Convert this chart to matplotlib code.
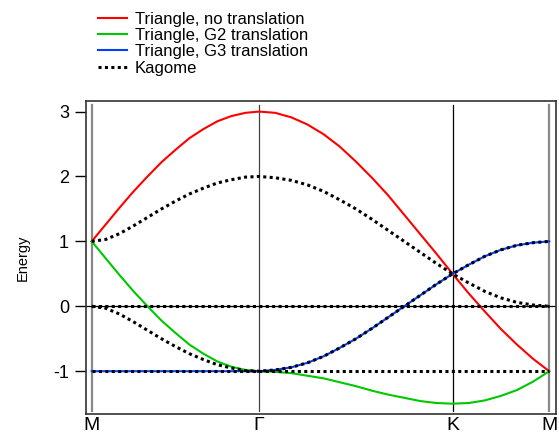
import numpy as np
import matplotlib
matplotlib.use("Agg")
import matplotlib.pyplot as plt

plt.rcParams['font.family'] = ['Liberation Sans', 'DejaVu Sans']

# path lengths of the segments M-G, G-K, K-M (reciprocal units)
seg_len = [1.814, 2.094, 1.047]
seg_n = [12, 12, 6]
tick_pos = np.concatenate([[0], np.cumsum(seg_len)])
tick_labels = ["M", "\u0393", "K", "M"]

# energies, M -> Gamma -> K -> M
red = [1.00, 1.26, 1.52, 1.77, 2.00, 2.22, 2.41, 2.59, 2.73, 2.85, 2.93, 2.98, 3.00,
       2.98, 2.91, 2.80, 2.65, 2.46, 2.23, 1.98, 1.71, 1.41, 1.11, 0.81, 0.50,
       0.20, -0.08, -0.35, -0.59, -0.81, -1.00]
green = [1.00, 0.74, 0.48, 0.23, 0.00, -0.22, -0.41, -0.59, -0.73, -0.85, -0.93, -0.98, -1.00,
         -1.01, -1.03, -1.07, -1.11, -1.17, -1.23, -1.30, -1.36, -1.41, -1.46, -1.49, -1.50,
         -1.49, -1.45, -1.38, -1.29, -1.16, -1.00]
blue = [-1.00, -1.00, -1.00, -1.00, -1.00, -1.00, -1.00, -1.00, -1.00, -1.00, -1.00, -1.00, -1.00,
        -0.98, -0.94, -0.87, -0.77, -0.64, -0.50, -0.34, -0.17, 0.00, 0.17, 0.34, 0.50,
        0.64, 0.77, 0.87, 0.94, 0.98, 1.00]
kag_up = [1.00, 1.03, 1.12, 1.24, 1.37, 1.50, 1.62, 1.73, 1.82, 1.90, 1.95, 1.99, 2.00,
          1.98, 1.94, 1.87, 1.77, 1.64, 1.50, 1.34, 1.17, 1.00, 0.83, 0.66, 0.50,
          0.36, 0.23, 0.13, 0.06, 0.02, 0.00]
kag_mid = [0.00, -0.03, -0.12, -0.24, -0.37, -0.50, -0.62, -0.73, -0.82, -0.90, -0.95, -0.99, -1.00,
           -0.98, -0.94, -0.87, -0.77, -0.64, -0.50, -0.34, -0.17, 0.00, 0.17, 0.34, 0.50,
           0.64, 0.77, 0.87, 0.94, 0.98, 1.00]
kag_flat = [-1.00, -1.00]
kag_zero = [0.00, 0.00]

# x grid along the path
k = [0.0]
for i in range(3):
    k += list(np.linspace(tick_pos[i], tick_pos[i + 1], seg_n[i] + 1)[1:])
k = np.array(k)
k_ends = [tick_pos[0], tick_pos[-1]]

fig = plt.figure(figsize=(5.59, 4.40), dpi=100)
ax = fig.add_axes([0.1533, 0.0591, 0.8413, 0.7114])

# vertical symmetry-point lines
vcol = ['#888888', '#444444', 'black', '#888888']
vlw = [1.6, 0.9, 0.9, 1.6]
for p, c, w in zip(tick_pos, vcol, vlw):
    ax.axvline(p, ymin=0.011, ymax=0.987, color=c, lw=w, zorder=1)
ax.axhline(0, color='black', lw=0.9, zorder=1)

ax.plot(k, red, color='#ff0000', lw=1.5, label='Triangle, no translation', zorder=3)
ax.plot(k, green, color='#00c800', lw=1.5, label='Triangle, G2 translation', zorder=3)
ax.plot(k, blue, color='#0040ff', lw=1.5, label='Triangle, G3 translation', zorder=3)
dot = dict(color='black', lw=2.2, linestyle=(0, (1, 1.1)), dash_capstyle='butt', zorder=4)
ax.plot(k, kag_up, label='Kagome', **dot)
ax.plot(k, kag_mid, **dot)
ax.plot(k_ends, kag_flat, **dot)
ax.plot(k_ends, kag_zero, **dot)

ax.set_xlim(-0.065, 5.028)
ax.set_ylim(-1.659, 3.163)
ax.set_yticks([-1, 0, 1, 2, 3])
ax.set_yticklabels(['-1', '0', '1', '2', '3'])
ax.set_xticks(tick_pos)
ax.set_xticklabels(tick_labels)
ax.tick_params(axis='y', direction='out', length=8, width=1, labelsize=13, pad=4)
ax.tick_params(axis='x', length=0, labelsize=14, pad=2)
for s in ax.spines.values():
    s.set_color('#333333')
    s.set_linewidth(1.2)
ax.set_ylabel('Energy', fontsize=10.5, labelpad=17)

fig.legend(loc='upper left', bbox_to_anchor=(0.155, 1.0), frameon=False, fontsize=12,
           handlelength=1.75, handletextpad=0.45, labelspacing=0.08, borderpad=0.2)

fig.savefig('out.png', dpi=100)
